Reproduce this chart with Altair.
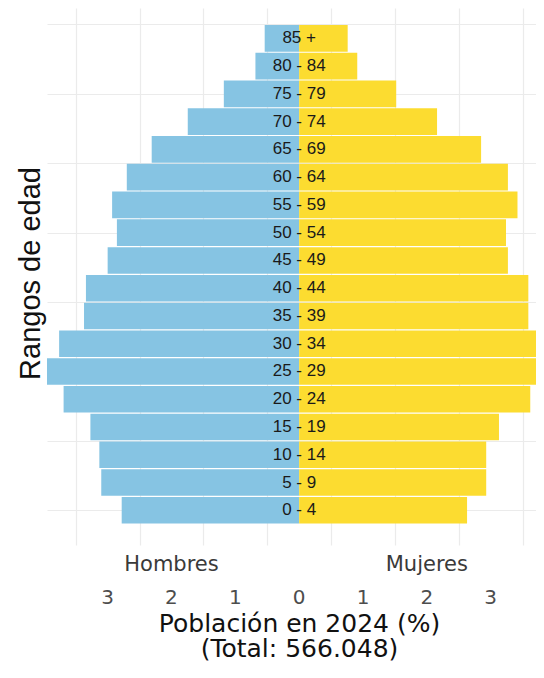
import altair as alt
import pandas as pd

# ---- data ----
edades = ["0 - 4", "5 - 9", "10 - 14", "15 - 19", "20 - 24", "25 - 29", "30 - 34",
          "35 - 39", "40 - 44", "45 - 49", "50 - 54", "55 - 59", "60 - 64",
          "65 - 69", "70 - 74", "75 - 79", "80 - 84", "85 +"]
hombres = [2.78, 3.10, 3.13, 3.27, 3.69, 3.95, 3.76, 3.37, 3.34, 3.00,
           2.855, 2.93, 2.70, 2.31, 1.745, 1.18, 0.685, 0.54]
mujeres = [2.63, 2.93, 2.93, 3.13, 3.62, 3.95, 3.90, 3.59, 3.59, 3.27,
           3.24, 3.42, 3.27, 2.85, 2.16, 1.52, 0.91, 0.76]
sexos = ["Hombres", "Mujeres"]
sexo_pos = [-2, 2]
x_grid = [-3.5, -3, -2.5, -2, -1.5, -1, -0.5, 0, 0.5, 1, 1.5, 2, 2.5, 3, 3.5]
x_ticks = [-3, -2, -1, 0, 1, 2, 3]
y_grid = [0, 2.5, 5, 7.5, 10, 12.5, 15, 17.5]
titulo_x = ["Población en 2024 (%)", "(Total: 566.048)"]
titulo_y = "Rangos de edad"

BLUE = "#86C4E3"
YELLOW = "#FCDC30"

rows = []
for i, e in enumerate(edades):
    rows.append({"idx": i, "edad": e, "sexo": "Hombres", "valor": -hombres[i]})
    rows.append({"idx": i, "edad": e, "sexo": "Mujeres", "valor": mujeres[i]})
df = pd.DataFrame(rows)
df_lab = pd.DataFrame({"idx": list(range(len(edades))), "edad": edades})
df_sex = pd.DataFrame({"sexo": sexos, "pos": sexo_pos})
df_ticks = pd.DataFrame({"v": x_ticks})

W, H = 489, 537

xscale = alt.Scale(domain=[-3.95, 3.71], nice=False, zero=False)
yscale = alt.Scale(domain=[-1.25, 18.094], nice=False, zero=False)

xaxis = alt.Axis(
    values=x_grid, labels=False, ticks=False, domain=False,
    grid=True, gridColor="#EBEBEB", gridWidth=1.2,
    title=titulo_x, titleFont="DejaVu Sans", titleFontSize=25,
    titleFontWeight="normal", titleColor="#111111",
    titleX=252, titleY=86, titleAlign="center", titleBaseline="alphabetic",
    titleLineHeight=25,
)
yaxis = alt.Axis(
    values=y_grid, labels=False, ticks=False, domain=False,
    grid=True, gridColor="#EBEBEB", gridWidth=1.2,
    title=titulo_y, titleFont="Liberation Sans", titleFontSize=29,
    titleFontWeight="normal", titleColor="#111111",
    titleX=-17, titleY=265, titleAngle=270, titleAlign="center",
    titleBaseline="middle",
)

bars = alt.Chart(df).transform_calculate(
    lo="datum.idx - 0.48", hi="datum.idx + 0.48", base="0"
).mark_rect(clip=True).encode(
    x=alt.X("valor:Q", scale=xscale, axis=xaxis),
    x2="base:Q",
    y=alt.Y("lo:Q", scale=yscale, axis=yaxis),
    y2="hi:Q",
    color=alt.Color("sexo:N", scale=alt.Scale(domain=sexos, range=[BLUE, YELLOW]),
                    legend=None),
)

labels = alt.Chart(df_lab).mark_text(
    font="Liberation Sans", fontSize=17, color="#1a1a1a", align="center",
    baseline="middle",
).encode(
    x=alt.X(datum=0, scale=xscale),
    y=alt.Y("idx:Q", scale=yscale),
    text="edad:N",
)

sexlab = alt.Chart(df_sex).mark_text(
    font="DejaVu Sans", fontSize=21, color="#3a3a3a", align="center",
    baseline="middle", clip=False,
).encode(
    x=alt.X("pos:Q", scale=xscale),
    y=alt.value(H + 20),
    text="sexo:N",
)

ticklab = alt.Chart(df_ticks).transform_calculate(
    t="format(abs(datum.v), 'd')"
).mark_text(
    font="DejaVu Sans", fontSize=20, color="#4d4d4d", align="center",
    baseline="middle", clip=False,
).encode(
    x=alt.X("v:Q", scale=xscale),
    y=alt.value(H + 53),
    text="t:N",
)

chart = alt.layer(bars, labels, sexlab, ticklab).properties(
    width=W, height=H,
    autosize=alt.AutoSizeParams(type="none"),
    padding={"left": 39, "top": 0, "right": 0, "bottom": 119},
    background="white",
).configure_view(stroke=None)

chart.save("out.html", embed_options={"renderer": "svg", "actions": False})
